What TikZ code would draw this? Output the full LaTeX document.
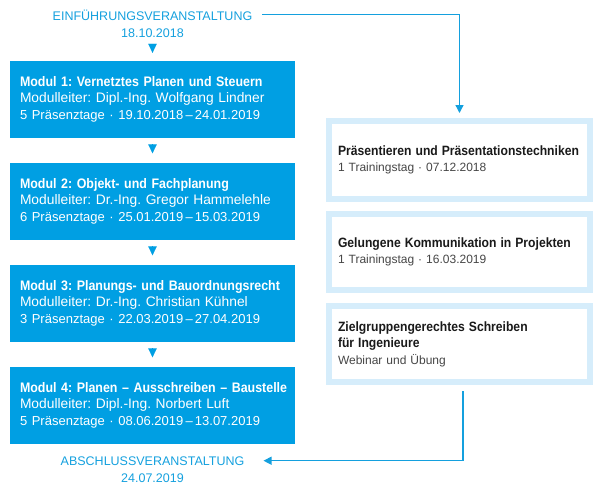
\documentclass[tikz,border=0pt]{standalone}
\usepackage{fontspec}
\setmainfont{Liberation Sans}
\newfontfamily\schmal{Liberation Sans}[FakeStretch=0.9]
\usetikzlibrary{arrows.meta}

\definecolor{modblau}{RGB}{0,159,227}
\definecolor{randblau}{RGB}{214,237,251}
\definecolor{linienblau}{RGB}{20,160,222}
\definecolor{kursschwarz}{RGB}{26,26,26}
\definecolor{kursgrau}{RGB}{70,70,70}

\newcommand{\modtitel}[1]{\mbox{\schmal\bfseries #1}}
\newcommand{\modtage}[1]{{\fontsize{13}{16.5}\selectfont #1}}
\newcommand{\kurstitel}[1]{{\fontsize{13.5}{16.5}\selectfont\schmal\bfseries\color{kursschwarz}#1}}

\begin{document}
\frenchspacing
\begin{tikzpicture}[x=1pt, y=-1pt,
  modul/.style={fill=modblau, text=white, text width=265pt, inner xsep=10pt, inner ysep=0pt, minimum height=77pt, align=left, font=\fontsize{13.8}{16.5}\selectfont},
  kurs/.style={draw=randblau, line width=6pt, fill=white, text width=243pt, inner xsep=9pt, inner ysep=0pt, align=left, text=kursgrau, font=\fontsize{12}{16.5}\selectfont},
  termin/.style={text=linienblau, inner sep=0pt, anchor=base, font=\fontsize{12.5}{15}\selectfont},
  stufe/.style={draw=modblau, line width=0.1pt, shorten <=6.5pt, shorten >=9pt, -{Triangle[width=8.5pt,length=9pt]}},
  pfeil/.style={draw=linienblau, line width=1.3pt, -{Triangle[width=8pt,length=8pt]}}]
    \useasboundingbox (0,0) rectangle (600,491);

    % Einfuehrung und Abschluss
    \node[termin] (intro) at (152.5,20) {EINFÜHRUNGSVERANSTALTUNG};
    \node[termin] (introdatum) at (152.5,37.5) {18.10.2018};
    \node[termin] (outro) at (152.5,465) {ABSCHLUSSVERANSTALTUNG};
    \node[termin] (outrodatum) at (152.5,482) {24.07.2019};

    % Module links
    \node[modul] (m1) at (152.5,99) {\modtitel{Modul 1: Vernetztes Planen und Steuern}\\
      Modulleiter: Dipl.-Ing. Wolfgang Lindner\\
      \modtage{5 Präsenztage · 19.10.2018\,–\,24.01.2019}};
    \node[modul] (m2) at (152.5,201) {\modtitel{Modul 2: Objekt- und Fachplanung}\\
      Modulleiter: Dr.-Ing. Gregor Hammelehle\\
      \modtage{6 Präsenztage · 25.01.2019\,–\,15.03.2019}};
    \node[modul] (m3) at (152.5,303) {\modtitel{Modul 3: Planungs- und Bauordnungsrecht}\\
      Modulleiter: Dr.-Ing. Christian Kühnel\\
      \modtage{3 Präsenztage · 22.03.2019\,–\,27.04.2019}};
    \node[modul] (m4) at (152.5,405) {\modtitel{Modul 4: Planen – Ausschreiben – Baustelle}\\
      Modulleiter: Dipl.-Ing. Norbert Luft\\
      \modtage{5 Präsenztage · 08.06.2019\,–\,13.07.2019}};

    % Trainings rechts
    \node[kurs, minimum height=78pt] (p1) at (459.5,160) {\kurstitel{Präsentieren und Präsentationstechniken}\\
      1 Trainingstag · 07.12.2018};
    \node[kurs, minimum height=76pt] (p2) at (459.5,252) {\kurstitel{Gelungene Kommunikation in Projekten}\\
      1 Trainingstag · 16.03.2019};
    \node[kurs, minimum height=76pt] (p3) at (459.5,344) {\kurstitel{Zielgruppengerechtes Schreiben}\\
      \kurstitel{für Ingenieure}\\
      Webinar und Übung};

    % Ablauf der Module
    \draw[stufe, shorten <=7.5pt, shorten >=7.5pt] (introdatum.south) -- (m1.north);
    \draw[stufe] (m1.south) -- (m2.north);
    \draw[stufe] (m2.south) -- (m3.north);
    \draw[stufe] (m3.south) -- (m4.north);

    % Verbindungen zu den Trainings
    \draw[pfeil, shorten <=10pt, shorten >=5pt] (intro.east) -| (p1.north);
    \draw[pfeil, shorten <=6pt, shorten >=19pt] ([xshift=3.5pt]p3.south) |- (outro.east);
\end{tikzpicture}
\end{document}
